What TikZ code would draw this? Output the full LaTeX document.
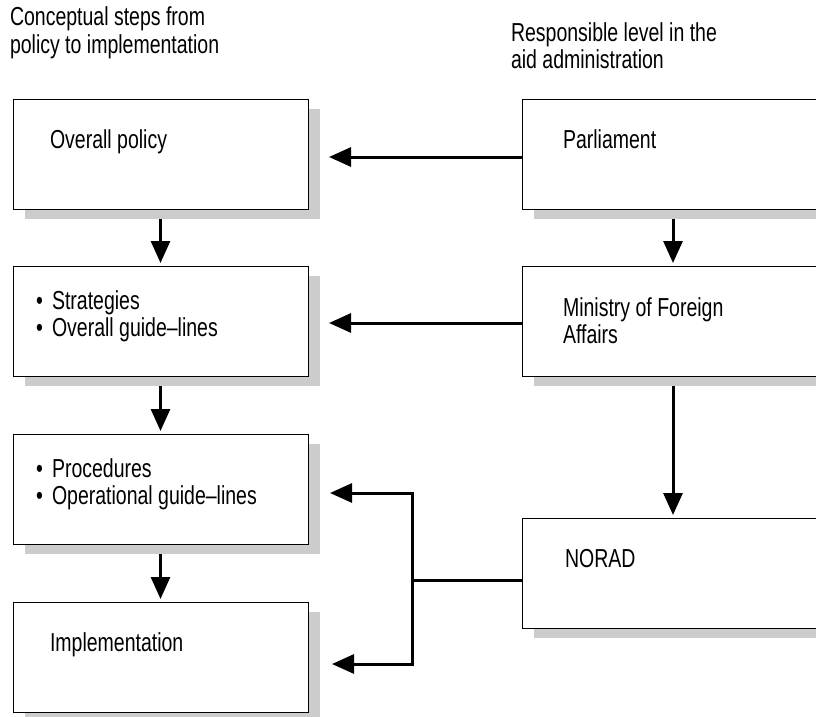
\documentclass[tikz,border=0pt]{standalone}
\usepackage{fontspec}
\setmainfont{Liberation Sans}[FakeStretch=0.75]
\usetikzlibrary{arrows.meta,calc,shadows}
\definecolor{shadowgray}{HTML}{CCCCCC}
\begin{document}
\begin{tikzpicture}[x=1pt,y=-1pt,
  box/.style={draw=black, line width=1pt, fill=white, minimum width=295pt, minimum height=110pt,
    anchor=north west, inner sep=0pt, outer sep=0pt,
    general shadow={shadow xshift=12pt, shadow yshift=-9.5pt, fill=shadowgray}},
  rbox/.style={box, minimum width=320pt},
  arr/.style={line width=3pt, line join=miter, -{Triangle[length=22pt,width=19pt]}},
  ln/.style={line width=3pt},
  txt/.style={anchor=base west, inner sep=0pt, outer sep=0pt, font=\fontsize{26}{27}\selectfont}]
\useasboundingbox (0,0) rectangle (816,717);
% boxes
\node[box] (b1) at (13,99) {};
\node[box] (b2) at (13,266) {};
\node[box] (b3) at (13,434) {};
\node[box] (b4) at (13,602) {};
\node[rbox] (r1) at (522,99) {};
\node[rbox] (r2) at (522,266) {};
\node[rbox] (r3) at (522,518) {};
% headers
\node[txt] (h1) at (10,26) {Conceptual steps from};
\node[txt] (h2) at (10,53) {policy to implementation};
\node[txt] (h3) at (511,42) {Responsible level in the};
\node[txt] (h4) at (511,69) {aid administration};
% box texts
\node[txt] (t1) at (50,148) {Overall policy};
\node[txt] (t2a) at (36,309) {•};
\node[txt] (t2b) at (52,309) {Strategies};
\node[txt] (t2c) at (36,336) {•};
\node[txt] (t2d) at (52,336) {Overall guide–lines};
\node[txt] (t3a) at (36,477) {•};
\node[txt] (t3b) at (52,477) {Procedures};
\node[txt] (t3c) at (36,504) {•};
\node[txt] (t3d) at (52,504) {Operational guide–lines};
\node[txt] (t4) at (50,651) {Implementation};
\node[txt] (u1) at (563,148) {Parliament};
\node[txt] (u2a) at (563,316) {Ministry of Foreign};
\node[txt] (u2b) at (563,343) {Affairs};
\node[txt] (u3) at (565,567) {NORAD};
% connectors
\draw[arr] ([yshift=-3pt]r1.west) -- ([xshift=21pt,yshift=-3pt]b1.east);
\draw[arr] ([yshift=-2pt]r2.west) -- ([xshift=21pt,yshift=-2pt]b2.east);
\draw[arr] ([yshift=-10pt]b1.south) -- ([yshift=3pt]b2.north);
\draw[arr] ([yshift=-10pt]b2.south) -- ([yshift=3pt]b3.north);
\draw[arr] ([yshift=-10pt]b3.south) -- ([yshift=3pt]b4.north);
\draw[arr] ([xshift=-9pt,yshift=-10pt]r1.south) -- ([xshift=-9pt,yshift=3pt]r2.north);
\draw[arr] ([xshift=-9pt,yshift=-10pt]r2.south) -- ([xshift=-9pt,yshift=3pt]r3.north);
\coordinate (j) at (412,580);
\coordinate (jt) at (412,493);
\coordinate (jb) at (412,664);
\draw[ln] ([yshift=-7pt]r3.west) -- (j);
\draw[arr] (j) |- ($(b3.east|-jt)+(22,0)$);
\draw[arr] (j) |- ($(b4.east|-jb)+(24,0)$);
\end{tikzpicture}
\end{document}
